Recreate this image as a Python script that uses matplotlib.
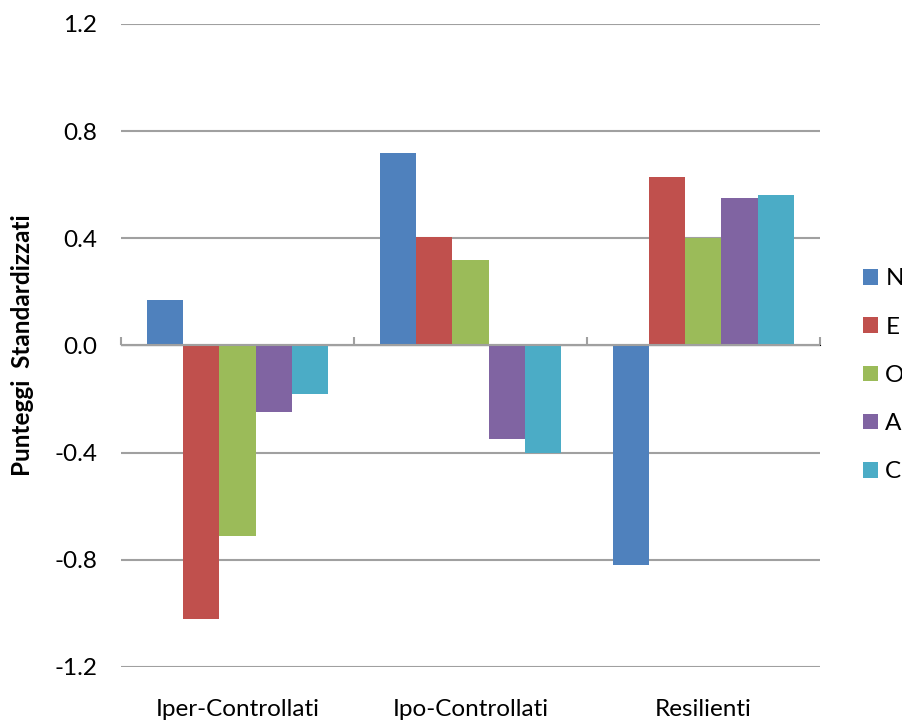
import numpy as np
import matplotlib
matplotlib.use("Agg")
import matplotlib.pyplot as plt
from matplotlib.patches import Patch

categories = ["Iper-Controllati", "Ipo-Controllati", "Resilienti"]
series_names = ["N", "E", "O", "A", "C"]
N = [0.17, 0.72, -0.82]
E = [-1.02, 0.405, 0.63]
O = [-0.71, 0.32, 0.40]
A = [-0.25, -0.35, 0.55]
C = [-0.18, -0.40, 0.56]
y_ticks = [-1.2, -0.8, -0.4, 0.0, 0.4, 0.8, 1.2]

colors = ["#4F81BD", "#C0504D", "#9BBB59", "#8064A2", "#4BACC6"]
grid_col = "#A0A0A0"

plt.rcParams["font.family"] = ["Lato", "DejaVu Sans"]
fs = 17.5

fig = plt.figure(figsize=(9.03, 7.22), dpi=100)
ax = fig.add_axes([0.134, 0.0762, 0.774, 0.8906])

values = [N, E, O, A, C]
x = np.arange(len(categories))
bw = 0.155
for i, (name, vals) in enumerate(zip(series_names, values)):
    ax.bar(x + (i - 2) * bw, vals, width=bw, color=colors[i], label=name, zorder=3)

ax.set_xlim(-0.5, len(categories) - 0.5)
ax.set_ylim(-1.2, 1.2)
ax.set_yticks(y_ticks)
ax.set_yticklabels([f"{t:.1f}" for t in y_ticks])
ax.yaxis.grid(True, color=grid_col, linewidth=1.5, zorder=0)
ax.axhline(0, color=grid_col, linewidth=1.5, zorder=4)
ax.tick_params(axis="y", length=0, pad=17, labelsize=fs)
ax.set_xticks(x)
ax.set_xticklabels(categories)
ax.tick_params(axis="x", length=0, pad=23, labelsize=fs)
for s in ax.spines.values():
    s.set_visible(False)

# category axis ticks on the zero line
sec = ax.secondary_xaxis(0.5)
sec.set_xticks(np.arange(len(categories) + 1) - 0.5)
sec.set_xticklabels([])
sec.tick_params(axis="x", direction="out", length=6, width=1.5, color=grid_col)
sec.spines["bottom"].set_visible(False)

ax.set_ylabel("Punteggi  Standardizzati", fontsize=fs, fontweight="bold", labelpad=15)

handles = [Patch(facecolor=c, label=n) for c, n in zip(colors, series_names)]
fig.legend(handles=handles, loc="center left", bbox_to_anchor=(0.9557, 0.48),
           frameon=False, fontsize=fs, handlelength=0.62, handleheight=0.62,
           handletextpad=0.3, labelspacing=1.12, borderpad=0, borderaxespad=0)

fig.savefig("out.png", dpi=100)
